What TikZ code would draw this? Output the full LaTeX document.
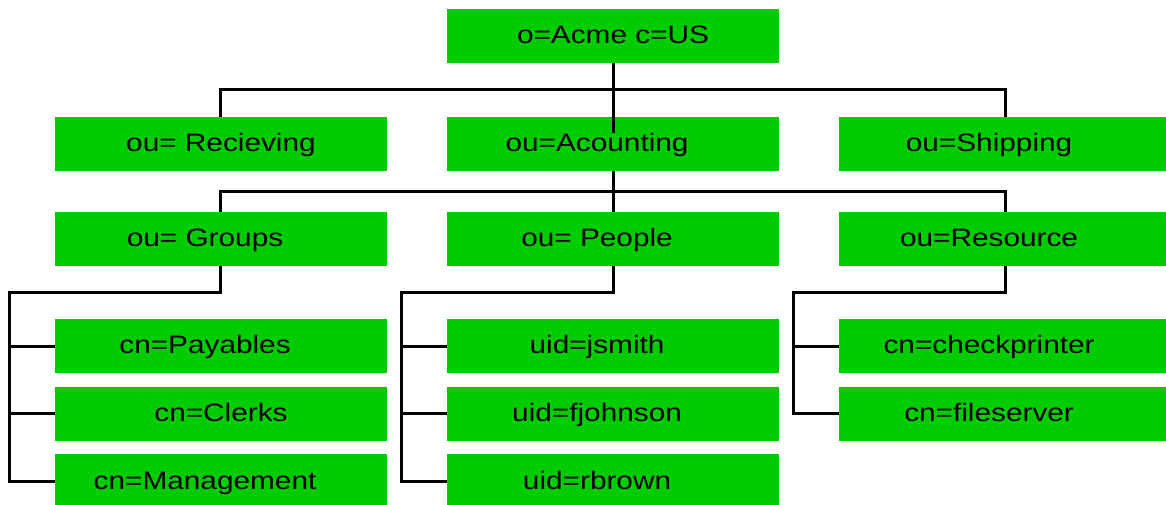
\documentclass[tikz,border=0pt]{standalone}
\usepackage{fontspec}
\setmainfont[FakeStretch=1.18]{Liberation Sans}
\usetikzlibrary{arrows,shapes}
\definecolor{ldapgreen}{RGB}{0,204,0}
\newcommand{\tail}{\kern24pt}

\begin{document}
\begin{tikzpicture}[node distance=10.372cm,auto]
  \tikzstyle{entry}=[rectangle,fill=ldapgreen,minimum width=8.784cm,minimum height=1.429cm,inner sep=0pt,
    text height=13pt,text depth=1pt,font=\fontsize{19}{21}\selectfont]
  \tikzstyle{wire}=[line width=2.25pt,black]

    \useasboundingbox (-16.219,0.953) rectangle (14.631,-12.382);

    \node [entry] (acme) {o=Acme c=US}; %root
    \node [entry] (acct) [node distance=2.857cm,below of=acme] {ou=Acounting\tail};
    \node [entry] (recv) [left of=acct] {ou= Recieving};
    \node [entry] (ship) [right of=acct] {ou=Shipping\tail};
    \node [entry] (people) [node distance=2.514cm,below of=acct] {ou= People\tail};
    \node [entry] (groups) [left of=people] {ou= Groups\tail};
    \node [entry] (res) [right of=people] {ou=Resource\tail};
    \node [entry] (jsmith) [node distance=2.831cm,below of=people] {uid=jsmith\tail};
    \node [entry] (fjohnson) [node distance=1.786cm,below of=jsmith] {uid=fjohnson\tail};
    \node [entry] (rbrown) [node distance=1.786cm,below of=fjohnson] {uid=rbrown\tail};
    \node [entry] (pay) [left of=jsmith] {cn=Payables\tail};
    \node [entry] (clerks) [left of=fjohnson] {cn=Clerks};
    \node [entry] (mgmt) [left of=rbrown] {cn=Management\tail};
    \node [entry] (chk) [right of=jsmith] {cn=checkprinter\tail};
    \node [entry] (fsrv) [right of=fjohnson] {cn=fileserver\tail};

    % tree lines
    \draw [wire] (acme.south) -- ++(0,-1.852);
    \draw [wire] (recv.north) -- ++(0,0.714) -| (ship.north);
    \draw [wire] (acct.south) -- (people.north);
    \draw [wire] (groups.north) -- ++(0,0.542) -| (res.north);
    \foreach \p/\c in {groups/mgmt,people/rbrown,res/fsrv}
      \draw [wire] (\p.south) -- ++(0,-0.688) -| ([xshift=-1.19cm]\c.west) -- (\c.west);
    \foreach \c in {pay,clerks,jsmith,fjohnson,chk}
      \draw [wire] (\c.west) -- ++(-1.19,0);
\end{tikzpicture}
\end{document}
